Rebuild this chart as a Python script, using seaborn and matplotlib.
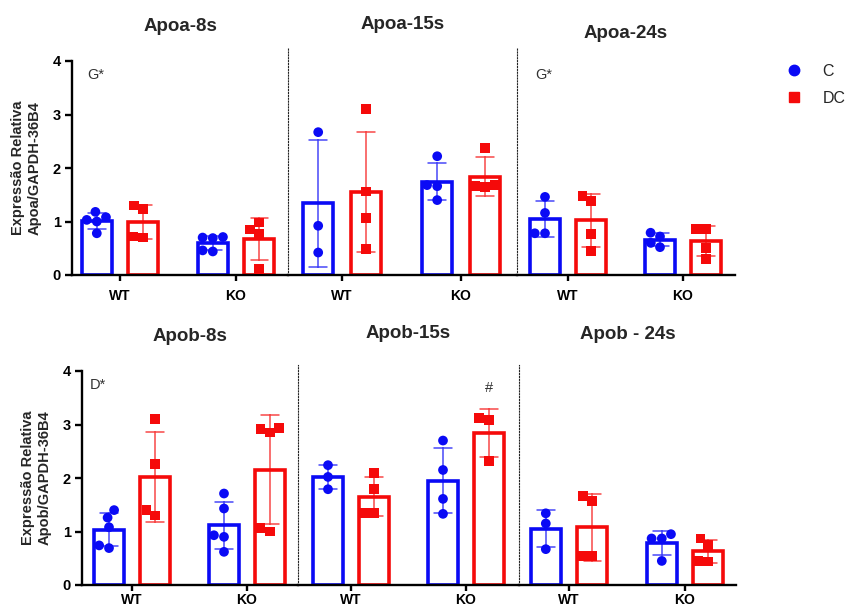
import numpy as np
import pandas as pd
import seaborn as sns
import matplotlib.pyplot as plt
from matplotlib.lines import Line2D

groups = ['C', 'DC']
genotypes = ['WT', 'KO']
markers = ['o', 's']
palette = {'C': '#0a0af5', 'DC': '#f50a0a'}

titles = ['Apoa-8s', 'Apoa-15s', 'Apoa-24s', 'Apob-8s', 'Apob-15s', 'Apob - 24s']
ylabels = ['Expressão Relativa\nApoa/GAPDH-36B4', 'Expressão Relativa\nApob/GAPDH-36B4']
notes = ['G*', '', 'G*', 'D*', '', '']

# valores individuais
apoa_8s_wt_c = [1.08, 1.18, 1.03, 0.78, 1.00]
apoa_8s_wt_dc = [1.23, 1.30, 0.70, 0.72]
apoa_8s_ko_c = [0.70, 0.71, 0.69, 0.44, 0.46]
apoa_8s_ko_dc = [0.85, 0.98, 0.76, 0.11]

apoa_15s_wt_c = [2.67, 0.92, 0.42]
apoa_15s_wt_dc = [3.10, 1.56, 1.06, 0.49]
apoa_15s_ko_c = [2.22, 1.68, 1.66, 1.40]
apoa_15s_ko_dc = [2.38, 1.68, 1.66, 1.64]

apoa_24s_wt_c = [1.46, 1.16, 0.78, 0.78]
apoa_24s_wt_dc = [1.48, 1.38, 0.77, 0.45]
apoa_24s_ko_c = [0.72, 0.79, 0.60, 0.52]
apoa_24s_ko_dc = [0.86, 0.86, 0.50, 0.30]

apob_8s_wt_c = [1.40, 1.26, 1.08, 0.69, 0.74]
apob_8s_wt_dc = [3.10, 2.26, 1.30, 1.40]
apob_8s_ko_c = [1.71, 1.43, 0.93, 0.90, 0.62]
apob_8s_ko_dc = [2.91, 2.94, 2.85, 1.00, 1.07]

apob_15s_wt_c = [2.24, 2.02, 1.79]
apob_15s_wt_dc = [2.10, 1.80, 1.35, 1.35]
apob_15s_ko_c = [2.70, 2.15, 1.61, 1.33]
apob_15s_ko_dc = [3.12, 3.08, 2.32]

apob_24s_wt_c = [1.34, 1.15, 0.67]
apob_24s_wt_dc = [1.57, 1.66, 0.54, 0.54]
apob_24s_ko_c = [0.95, 0.87, 0.87, 0.45]
apob_24s_ko_dc = [0.87, 0.75, 0.44, 0.45]

panels = [
    (apoa_8s_wt_c, apoa_8s_wt_dc, apoa_8s_ko_c, apoa_8s_ko_dc),
    (apoa_15s_wt_c, apoa_15s_wt_dc, apoa_15s_ko_c, apoa_15s_ko_dc),
    (apoa_24s_wt_c, apoa_24s_wt_dc, apoa_24s_ko_c, apoa_24s_ko_dc),
    (apob_8s_wt_c, apob_8s_wt_dc, apob_8s_ko_c, apob_8s_ko_dc),
    (apob_15s_wt_c, apob_15s_wt_dc, apob_15s_ko_c, apob_15s_ko_dc),
    (apob_24s_wt_c, apob_24s_wt_dc, apob_24s_ko_c, apob_24s_ko_dc),
]

sns.set_theme(style='ticks')
plt.rcParams['font.family'] = ['Liberation Sans', 'DejaVu Sans']

W, H = 846, 609
fig = plt.figure(figsize=(W / 100, H / 100), dpi=100)

# layout em pixels: esquerda, direita, tick WT, tick KO, linha do zero
frames = [(72, 288, 120, 236, 275), (288, 517, 342, 461, 275), (517, 735, 568, 683, 275),
          (82, 298, 132, 247, 585), (298, 519, 351, 466, 585), (519, 736, 569, 685, 585)]
unit = 53.5
ytops = [4.25, 4.25, 4.25, 4.12, 4.12, 4.12]
title_y = [4.65, 4.69, 4.52, 4.65, 4.71, 4.69]
note_x = [0.07, 0, 0.083, 0.037, 0, 0]

for i, (vals, fr) in enumerate(zip(panels, frames)):
    left, right, wt, ko, base = fr
    ytop = ytops[i]
    ax = fig.add_axes([left / W, 1 - base / H, (right - left) / W, ytop * unit / H])

    rows = []
    for (gen, grp), v in zip([('WT', 'C'), ('WT', 'DC'), ('KO', 'C'), ('KO', 'DC')], vals):
        rows += [(gen, grp, x) for x in v]
    df = pd.DataFrame(rows, columns=['genotype', 'group', 'value'])

    sns.barplot(data=df, x='genotype', y='value', hue='group', order=genotypes,
                hue_order=groups, palette=palette, fill=False, errorbar='sd',
                capsize=0.3, gap=0.36, linewidth=2.6,
                err_kws={'linewidth': 1.1, 'alpha': 0.75}, legend=False, ax=ax)
    for g, m in zip(groups, markers):
        sns.swarmplot(data=df[df.group == g], x='genotype', y='value', hue='group',
                      order=genotypes, hue_order=groups, palette=palette, dodge=True,
                      marker=m, size=7, linewidth=0, legend=False, ax=ax)

    sp = ko - wt
    ax.set_xlim(-(wt - left) / sp, 1 + (right - ko) / sp)
    ax.set_ylim(0, ytop)
    ax.set(xlabel='', ylabel='')
    sns.despine(ax=ax)
    ax.spines['bottom'].set_linewidth(1.7)
    ax.spines['bottom'].set_color('black')
    ax.tick_params(axis='x', width=1.7, length=4, pad=6 if i < 3 else 1.5,
                   labelsize=10, colors='black')
    for lbl in ax.get_xticklabels():
        lbl.set_fontweight('bold')

    if i % 3 == 0:
        ax.spines['left'].set_linewidth(1.7)
        ax.spines['left'].set_color('black')
        ax.spines['left'].set_bounds(0, 4)
        ax.set_yticks([0, 1, 2, 3, 4])
        ax.tick_params(axis='y', width=1.7, length=5, pad=3, labelsize=10.5, colors='black')
        for lbl in ax.get_yticklabels():
            lbl.set_fontweight('bold')
        ax.annotate(ylabels[i // 3], xy=(-0.21, 2.0), xycoords=('axes fraction', 'data'),
                    rotation=90, ha='center', va='center', fontsize=10.5,
                    fontweight='bold', linespacing=1.25, annotation_clip=False)
    else:
        ax.spines['left'].set_linestyle((0, (1, 1.6)))
        ax.spines['left'].set_linewidth(0.8)
        ax.spines['left'].set_color('#222222')
        ax.set_yticks([])

    ax.annotate(titles[i], xy=(0.5, title_y[i]), xycoords=('axes fraction', 'data'),
                ha='center', va='center', fontsize=13.5, fontweight='bold',
                annotation_clip=False)
    if notes[i]:
        ax.annotate(notes[i], xy=(note_x[i], 3.74), xycoords=('axes fraction', 'data'),
                    ha='left', va='center', fontsize=10.5, color='#333333')
    if i == 4:
        ax.text(1.2, 3.68, '#', ha='center', va='center', fontsize=10.5, color='#333333')

handles = [Line2D([], [], marker=m, ls='none', color=palette[g], markersize=7.5)
           for g, m in zip(groups, markers)]
fig.legend(handles=handles, labels=groups, loc='upper left',
           bbox_to_anchor=(786 / W, 1 - 64 / H), frameon=False, fontsize=11.5,
           handlelength=1.0, handletextpad=1.3, borderpad=0, borderaxespad=0,
           labelspacing=0.75)

fig.savefig('out.png', dpi=100)
